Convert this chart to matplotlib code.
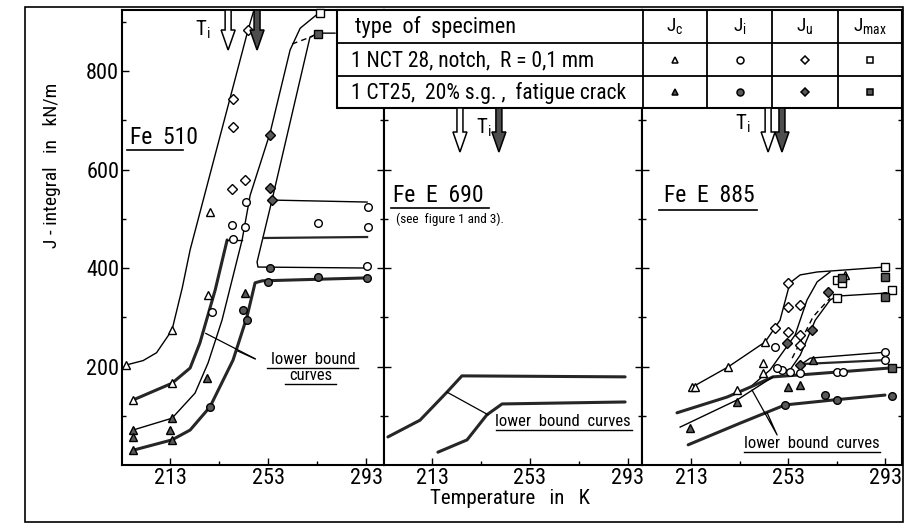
import matplotlib
matplotlib.use("Agg")
import matplotlib.pyplot as plt
from matplotlib import font_manager
from matplotlib.patches import Rectangle, Polygon

W, H = 905, 529

# the scan uses a narrow stencil lettering: take a condensed face if one is installed
CONDENSED = ("condensed", "semi-condensed", "extra-condensed", "ultra-condensed")
fonts = font_manager.fontManager.ttflist
names = {f.name for f in fonts}
FONT, STRETCH, NARROW = "DejaVu Sans", "normal", False
for cand in ["Liberation Sans Narrow", "Roboto Condensed", "Open Sans Condensed",
             "Noto Sans Condensed", "DejaVu Sans Condensed", "Arial Narrow"]:
    if cand in names:
        FONT, NARROW = cand, True
        break
else:
    for f in fonts:
        if f.stretch in CONDENSED and f.style == "normal" and f.weight in (400, "normal", "regular"):
            FONT, STRETCH, NARROW = f.name, f.stretch, True
            break

SC = 1.0 if NARROW else 0.8
plt.rcParams["font.family"] = [FONT, "DejaVu Sans"]
plt.rcParams["font.stretch"] = STRETCH
plt.rcParams["mathtext.fontset"] = "custom"
plt.rcParams["mathtext.rm"] = FONT
plt.rcParams["mathtext.it"] = FONT

# ---- data: temperature in K, J-integral in kN/m ----
# Fe 510
FE510_A_T = [195.0, 202.0, 207.5, 213.8, 218.0, 221.2, 244.8, 247.0]
FE510_A_J = [203, 212, 228, 274, 360, 437, 883, 920]
FE510_B_T = [197.9, 213.8, 221.2, 225.2, 231.4, 236.3]
FE510_B_J = [132, 166, 197, 248, 355, 457]
FE510_STEP_T = [236.3, 242.4]
FE510_STEP_J = [457, 457]
FE510_C_T = [197.9, 213.8, 223.2, 228.5, 234.2, 242.4, 245.7, 253.8, 262.0, 266.1, 274.2]
FE510_C_J = [71, 95, 146, 207, 294, 457, 548, 674, 843, 887, 920]
FE510_E_T = [197.9, 213.8, 221.2, 229.3, 238.7, 244.4, 247.7, 250.6, 293.4]
FE510_E_J = [30, 51, 71, 118, 213, 301, 370, 374, 380]
FE510_F_T = [293.4, 248.9, 248.5, 254.6, 270.1, 273.4, 280.3]
FE510_F_J = [400, 402, 412, 538, 869, 877, 877]
FE510_G_T = [254.6, 293.4]
FE510_G_J = [538, 534]
FE510_H_T = [251.0, 293.4]
FE510_H_J = [461, 463]
FE510_DASH_T = [262.8, 271.4]
FE510_DASH_J = [855, 871]

FE510_TRI_OPEN_T = [195.0, 213.8, 229.3, 197.9, 213.8, 228.5]
FE510_TRI_OPEN_J = [203, 274, 514, 132, 166, 345]
FE510_TRI_FILL_T = [228.1, 197.9, 197.9, 213.8, 213.0, 197.9, 243.6, 213.8]
FE510_TRI_FILL_J = [177, 71, 57, 95, 71, 30, 349, 51]
FE510_CIR_OPEN_T = [230.1, 238.3, 244.0, 243.6, 238.7, 293.8, 293.8, 273.4, 293.4]
FE510_CIR_OPEN_J = [311, 487, 534, 483, 459, 524, 483, 491, 404]
FE510_CIR_FILL_T = [229.3, 253.0, 273.4, 293.4, 242.8, 244.4, 253.8]
FE510_CIR_FILL_J = [118, 372, 382, 380, 315, 294, 400]
FE510_DIA_OPEN_T = [238.7, 244.8, 238.7, 238.3, 243.6]
FE510_DIA_OPEN_J = [743, 883, 686, 560, 579]
FE510_DIA_FILL_T = [253.8, 253.8, 254.6]
FE510_DIA_FILL_J = [670, 562, 538]
FE510_SQ_OPEN_T = [274.2]
FE510_SQ_OPEN_J = [918]
FE510_SQ_FILL_T = [273.4]
FE510_SQ_FILL_J = [875]

# Fe E 690 (lower bound curves only)
FE690_U_T = [195.0, 208.1, 219.1, 225.2, 291.8]
FE690_U_J = [57, 91, 148, 181, 179]
FE690_L_T = [215.4, 227.3, 235.4, 241.6, 291.8]
FE690_L_J = [26, 51, 102, 124, 128]

# Fe E 885
FE885_U_T = [213.4, 228.2, 243.5, 249.6, 253.7, 257.9, 264.9, 292.8]
FE885_U_J = [158, 199, 250, 294, 370, 386, 392, 402]
FE885_S1_T = [237.3, 245.5, 255.8, 260.7, 264.9, 270.2]
FE885_S1_J = [158, 193, 264, 335, 372, 392]
FE885_S2_T = [253.7, 257.9, 264.1, 270.2, 273.1, 292.8]
FE885_S2_J = [193, 223, 294, 335, 343, 349]
FE885_DASH_T = [254.6, 263.2, 270.2]
FE885_DASH_J = [217, 301, 339]
FE885_T1_T = [207.2, 227.8, 237.3, 246.7, 257.9, 294.9]
FE885_T1_J = [106, 138, 158, 179, 183, 197]
FE885_T2_T = [208.5, 231.9, 246.7]
FE885_T2_J = [77, 132, 179]
FE885_H1_T = [258.5, 262.0, 292.8]
FE885_H1_J = [205, 217, 229]
FE885_H2_T = [258.5, 292.8]
FE885_H2_J = [205, 213]
FE885_L_T = [211.8, 233.2, 251.7, 271.4, 292.8]
FE885_L_J = [41, 85, 122, 132, 142]

FE885_TRI_OPEN_T = [213.4, 214.6, 228.2, 243.5, 242.6, 242.6, 231.9, 276.4]
FE885_TRI_OPEN_J = [158, 158, 199, 250, 207, 187, 152, 386]
FE885_TRI_FILL_T = [212.6, 252.9, 257.9, 263.2, 231.9]
FE885_TRI_FILL_J = [75, 158, 162, 213, 128]
FE885_DIA_OPEN_T = [252.9, 252.9, 257.9, 247.6, 252.9, 257.9, 257.9]
FE885_DIA_OPEN_J = [370, 321, 325, 278, 270, 264, 244]
FE885_DIA_FILL_T = [252.5, 262.8, 257.9, 269.4]
FE885_DIA_FILL_J = [248, 274, 203, 351]
FE885_CIR_OPEN_T = [247.6, 250.4, 253.7, 257.9, 273.1, 275.6, 292.8, 292.8, 248.4]
FE885_CIR_OPEN_J = [240, 193, 189, 187, 189, 189, 229, 213, 197]
FE885_CIR_FILL_T = [268.1, 273.1, 251.7, 295.7, 292.8]
FE885_CIR_FILL_J = [142, 132, 122, 140, 343]
FE885_SQ_OPEN_T = [292.8, 273.1, 275.1, 295.7, 273.1]
FE885_SQ_OPEN_J = [402, 376, 370, 355, 339]
FE885_SQ_FILL_T = [292.8, 275.1, 292.8, 295.7]
FE885_SQ_FILL_J = [382, 380, 341, 197]

# transition temperatures T_i (open: NCT, filled: CT25), one per panel
TI_OPEN = [236.7, 224.4, 244.7]
TI_FILLED = [248.5, 240.3, 250.4]

TABLE_HEAD = ["type  of  specimen", r"$\mathrm{J_c}$", r"$\mathrm{J_i}$", r"$\mathrm{J_u}$", r"$\mathrm{J_{max}}$"]
TABLE_ROWS = ["1 NCT 28, notch,  R = 0,1 mm", "1 CT25,  20% s.g. ,  fatigue crack"]
MARKERS = ["^", "o", "D", "s"]

XTICKS = [213, 253, 293]
YTICKS = [200, 400, 600, 800]

FILL = "0.35"
THICK = dict(color="0.15", lw=2.2, solid_capstyle="round", zorder=2)
THIN = dict(color="black", lw=1.0, zorder=2)


def px_axes(fig, x0, x1, y0, y1):
    return fig.add_axes([x0 / W, 1 - y1 / H, (x1 - x0) / W, (y1 - y0) / H])


def marks(ax, t, j, m, filled, ms=5.5):
    if m == "D":
        ms = ms - 0.8
    ax.plot(t, j, ls="none", marker=m, ms=ms, mfc=FILL if filled else "white",
            mec="black", mew=1.0, zorder=4, clip_on=False)


fig = plt.figure(figsize=(W / 100, H / 100), dpi=100, facecolor="white")

ax1 = px_axes(fig, 122, 384, 10, 465)
ax2 = px_axes(fig, 384, 642, 10, 465)
ax3 = px_axes(fig, 642, 902, 10, 465)
panels = [ax1, ax2, ax3]
xlims = [(193.4, 300.3), (193.4, 298.7), (192.8, 299.8)]

for ax, xl in zip(panels, xlims):
    ax.set_xlim(*xl)
    ax.set_ylim(0, 924)
    ax.set_xticks(XTICKS)
    ax.set_xticks([233, 273], minor=True)
    ax.set_yticks(YTICKS)
    ax.set_yticks([100, 300, 500, 700, 900], minor=True)
    ax.tick_params(which="both", direction="in", left=True, right=True, top=False,
                   width=1.0, labelsize=16 * SC, pad=2)
    ax.tick_params(which="major", length=5)
    ax.tick_params(which="minor", length=3)
    for s in ax.spines.values():
        s.set_linewidth(1.5)
    if ax is not ax1:
        ax.set_yticklabels([])

# Fe 510
ax1.plot(FE510_A_T, FE510_A_J, **THIN)
ax1.plot(FE510_B_T, FE510_B_J, **THICK)
ax1.plot(FE510_STEP_T, FE510_STEP_J, **THIN)
ax1.plot(FE510_C_T, FE510_C_J, **THIN)
ax1.plot(FE510_E_T, FE510_E_J, **THICK)
ax1.plot(FE510_F_T, FE510_F_J, **THIN)
ax1.plot(FE510_G_T, FE510_G_J, **THIN)
ax1.plot(FE510_H_T, FE510_H_J, color="0.15", lw=1.6, zorder=2)
ax1.plot(FE510_DASH_T, FE510_DASH_J, color="black", lw=1.0, ls=(0, (4, 3)))
marks(ax1, FE510_TRI_OPEN_T, FE510_TRI_OPEN_J, "^", False)
marks(ax1, FE510_TRI_FILL_T, FE510_TRI_FILL_J, "^", True)
marks(ax1, FE510_CIR_OPEN_T, FE510_CIR_OPEN_J, "o", False)
marks(ax1, FE510_CIR_FILL_T, FE510_CIR_FILL_J, "o", True)
marks(ax1, FE510_DIA_OPEN_T, FE510_DIA_OPEN_J, "D", False)
marks(ax1, FE510_DIA_FILL_T, FE510_DIA_FILL_J, "D", True)
marks(ax1, FE510_SQ_OPEN_T, FE510_SQ_OPEN_J, "s", False)
marks(ax1, FE510_SQ_FILL_T, FE510_SQ_FILL_J, "s", True)
for tip in [(226.5, 270), (239.5, 234)]:
    ax1.annotate("", xy=tip, xytext=(248.8, 213), arrowprops=dict(arrowstyle="-", lw=0.9))

# Fe E 690
ax2.plot(FE690_U_T, FE690_U_J, **THICK)
ax2.plot(FE690_L_T, FE690_L_J, **THICK)
ax2.plot([219.1, 235.9], [148, 102], color="black", lw=0.9)

# Fe E 885
ax3.plot(FE885_U_T, FE885_U_J, **THIN)
ax3.plot(FE885_S1_T, FE885_S1_J, **THIN)
ax3.plot(FE885_S2_T, FE885_S2_J, **THIN)
ax3.plot(FE885_DASH_T, FE885_DASH_J, color="black", lw=1.0, ls=(0, (4, 3)))
ax3.plot(FE885_T1_T, FE885_T1_J, **THICK)
ax3.plot(FE885_T2_T, FE885_T2_J, **THIN)
ax3.plot(FE885_H1_T, FE885_H1_J, **THIN)
ax3.plot(FE885_H2_T, FE885_H2_J, color="0.15", lw=1.6)
ax3.plot(FE885_L_T, FE885_L_J, **THICK)
marks(ax3, FE885_TRI_OPEN_T, FE885_TRI_OPEN_J, "^", False)
marks(ax3, FE885_TRI_FILL_T, FE885_TRI_FILL_J, "^", True)
marks(ax3, FE885_DIA_OPEN_T, FE885_DIA_OPEN_J, "D", False)
marks(ax3, FE885_DIA_FILL_T, FE885_DIA_FILL_J, "D", True)
marks(ax3, FE885_CIR_OPEN_T, FE885_CIR_OPEN_J, "o", False)
marks(ax3, FE885_CIR_FILL_T, FE885_CIR_FILL_J, "o", True)
marks(ax3, FE885_SQ_OPEN_T, FE885_SQ_OPEN_J, "s", False)
marks(ax3, FE885_SQ_FILL_T, FE885_SQ_FILL_J, "s", True)
ax3.plot([238.1, 248.4, 244.3], [152, 61, 106], color="black", lw=0.9)

# ---- overlay in pixel coordinates: frame, table, labels, T_i arrows ----
ov = fig.add_axes([0, 0, 1, 1], zorder=10)
ov.set_xlim(0, W)
ov.set_ylim(H, 0)
ov.axis("off")
ov.patch.set_alpha(0)

ov.add_patch(Rectangle((25, 7), 878, 515, fill=False, lw=1.2, ec="black"))

# table
tx = [337, 643, 707, 772, 838, 902]
ty = [10, 43, 76, 108]
ov.add_patch(Rectangle((tx[0], ty[0]), tx[-1] - tx[0], ty[-1] - ty[0], fc="white", ec="black", lw=1.5))
for y in ty[1:-1]:
    ov.plot([tx[0], tx[-1]], [y, y], color="black", lw=1.3)
for x in tx[1:-1]:
    ov.plot([x, x], [ty[0], ty[-1]], color="black", lw=1.3)
ov.text(355, (ty[0] + ty[1]) / 2 + 1, TABLE_HEAD[0], fontsize=16 * SC, va="center", ha="left")
for i, head in enumerate(TABLE_HEAD[1:]):
    ov.text((tx[i + 1] + tx[i + 2]) / 2, (ty[0] + ty[1]) / 2, head, fontsize=14 * SC,
            ha="center", va="center")
for r, label in enumerate(TABLE_ROWS):
    yc = (ty[r + 1] + ty[r + 2]) / 2
    ov.text(351, yc + 1, label, fontsize=15.5 * SC, va="center", ha="left")
    for i, m in enumerate(MARKERS):
        ov.plot((tx[i + 1] + tx[i + 2]) / 2, yc, marker=m, ms=5 if m != "D" else 4.5,
                mfc=FILL if r == 1 else "white", mec="black", mew=1.1)


# T_i arrows
def down_arrow(x, y0, y1, filled):
    hl, hw, sw = 20, 7, 3
    pts = [(x - sw, y0), (x + sw, y0), (x + sw, y1 - hl), (x + hw, y1 - hl),
           (x, y1), (x - hw, y1 - hl), (x - sw, y1 - hl)]
    ov.add_patch(Polygon(pts, closed=True, fc="0.3" if filled else "white",
                         ec="black", lw=1.1, zorder=5))


arrow_y = [(10, 50), (108, 152), (108, 152)]
ti_text = [(203, 30), (484, 128), (743, 124)]
for ax, t_o, t_f, (y0, y1), (lx, ly) in zip(panels, TI_OPEN, TI_FILLED, arrow_y, ti_text):
    xo = ax.transData.transform((t_o, 0))[0]
    xf = ax.transData.transform((t_f, 0))[0]
    down_arrow(xo, y0, y1, False)
    down_arrow(xf, y0, y1, True)
    ov.text(lx, ly, r"$\mathrm{T_i}$", fontsize=15 * SC, ha="center", va="center")

# panel titles
ov.text(130, 137, "Fe  510", fontsize=17 * SC, ha="left", va="center")
ov.plot([127, 183], [150, 150], color="black", lw=1.2)
ov.text(393, 195, "Fe  E  690", fontsize=17 * SC, ha="left", va="center")
ov.plot([391, 489], [208, 208], color="black", lw=1.2)
ov.text(396, 219, "(see  figure 1 and 3).", fontsize=9.5 * SC, ha="left", va="center")
ov.text(664, 196, "Fe  E  885", fontsize=17 * SC, ha="left", va="center")
ov.plot([659, 757], [210, 210], color="black", lw=1.2)

# lower bound labels
ov.text(313, 359, "lower  bound", fontsize=12 * SC, ha="center", va="center")
ov.plot([267, 358], [368, 368], color="black", lw=1.0)
ov.text(311, 376, "curves", fontsize=12 * SC, ha="center", va="center")
ov.plot([285, 336], [384, 384], color="black", lw=1.0)
ov.text(563, 421, "lower  bound  curves", fontsize=12 * SC, ha="center", va="center")
ov.plot([496, 632], [430, 430], color="black", lw=1.0)
ov.text(812, 443, "lower  bound  curves", fontsize=12 * SC, ha="center", va="center")
ov.plot([744, 880], [452, 452], color="black", lw=1.0)

# axis labels
ov.text(510, 499, "Temperature   in   K", fontsize=15 * SC, ha="center", va="center")
ov.text(52, 165, "J - integral   in   kN/m", fontsize=14 * SC, ha="center", va="center", rotation=90)

fig.savefig("out.png", dpi=100)
